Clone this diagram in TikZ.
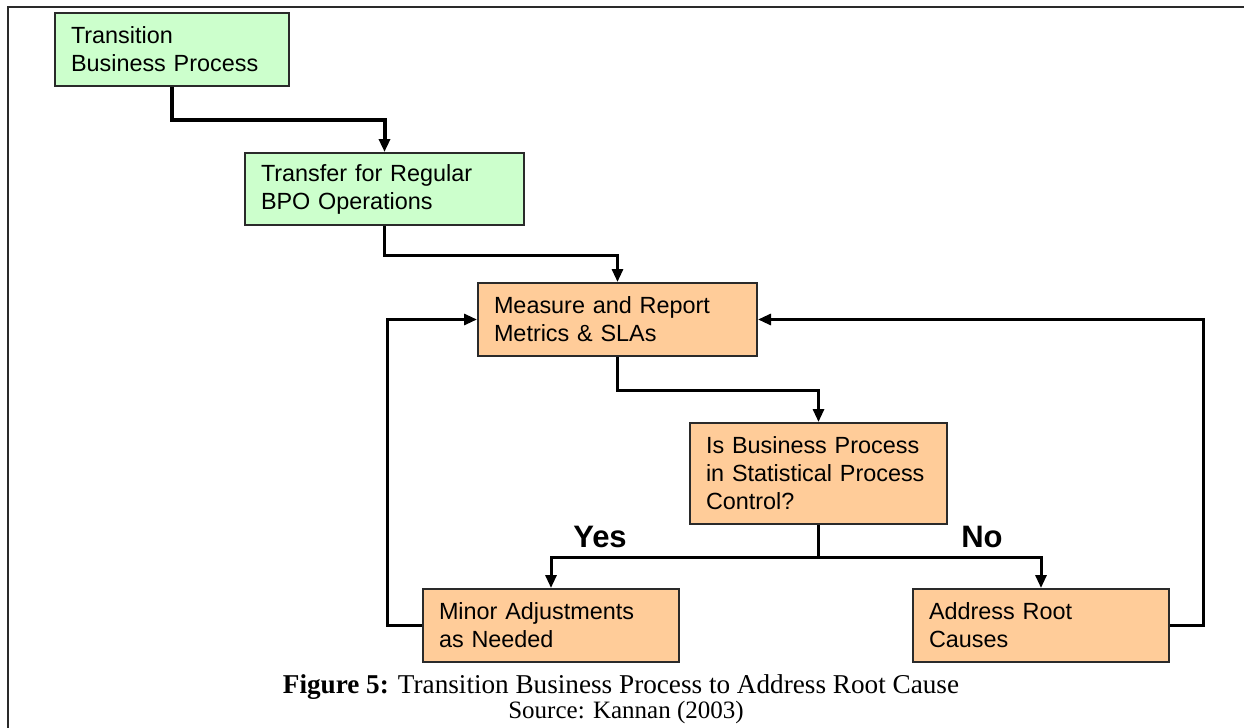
\documentclass[tikz,border=0pt]{standalone}
\usepackage{fontspec}
\setmainfont{Liberation Serif}
\newfontfamily\boxfont{Liberation Sans}
\usetikzlibrary{arrows.meta}

\definecolor{stepgreen}{HTML}{CCFFCC}
\definecolor{steporange}{HTML}{FFCC99}
\definecolor{edgegray}{HTML}{2A2A2A}

\tikzset{
  procbox/.style={draw=edgegray, line width=1pt, inner xsep=8pt, inner ysep=0pt,
    align=left, font=\boxfont\fontsize{11.7}{14}\selectfont},
  greenbox/.style={procbox, fill=stepgreen},
  orangebox/.style={procbox, fill=steporange},
  flow/.style={line width=1.5pt, -{Triangle[length=6.5pt,width=5.5pt]}},
  flowline/.style={line width=1.5pt},
  branchlabel/.style={font=\boxfont\bfseries\fontsize{15.5}{18}\selectfont},
  captext/.style={font=\fontsize{13.6}{15}\selectfont}
}

\begin{document}
\begin{tikzpicture}[x=0.5pt, y=-0.5pt]
  \useasboundingbox (0,0) rectangle (1244,728);

  % frame lines
  \draw[edgegray, line width=1pt] (8,728) -- (8,7) -- (1244,7);

  % process steps
  \node[greenbox, text width=101pt, minimum height=36.5pt] (trans) at (172,49.5)
    {Transition\\Business Process};
  \node[greenbox, text width=123.5pt, minimum height=36pt] (bpo) at (384.5,189)
    {Transfer for Regular\\BPO Operations};
  \node[orangebox, text width=123.5pt, minimum height=36.5pt] (measure) at (617.5,319.5)
    {Measure and Report\\Metrics \& SLAs};
  \node[orangebox, text width=112.5pt, minimum height=50.5pt] (spc) at (818.5,473.5)
    {Is Business Process\\in Statistical Process\\Control?};
  \node[orangebox, text width=112pt, minimum height=36.5pt] (minor) at (551,625.5)
    {Minor Adjustments\\as Needed};
  \node[orangebox, text width=112pt, minimum height=36.5pt] (root) at (1041,625.5)
    {Address Root\\Causes};

  % main flow
  \draw[flow, line width=2pt] (trans.south) -- ++(0,33) -| (bpo.north);
  \draw[flow] (bpo.south) -- ++(0,29) -| (measure.north);
  \draw[flow] (measure.south) -- ++(0,33) -| (spc.north);

  % decision branches
  \draw[flowline] (spc.south) -- ++(0,32) coordinate (fork);
  \draw[flow] (fork) -| (minor.north);
  \draw[flow] (fork) -| (root.north);

  % feedback loops
  \draw[flow] (minor.west) -- ++(-35,0) |- (measure.west);
  \draw[flow] (root.east) -- ++(33,0) |- (measure.east);

  % branch labels
  \node[branchlabel] (yes) at (600,537) {Yes};
  \node[branchlabel] (no) at (982,537) {No};

  % caption
  \node[captext] (cap1) at (621,687) {\textbf{Figure 5:} Transition Business Process to Address Root Cause};
  \node[captext, font=\fontsize{12.5}{15}\selectfont] (cap2) at (626,712) {Source: Kannan (2003)};
\end{tikzpicture}
\end{document}
